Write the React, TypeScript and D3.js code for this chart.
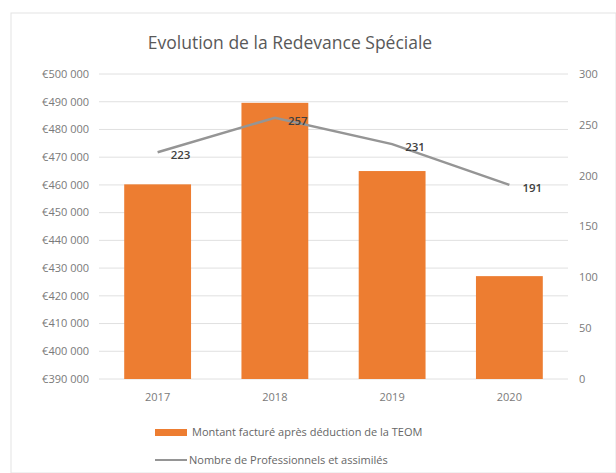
import React, { useEffect, useRef } from 'react';
import * as d3 from 'd3';

const years = ['2017', '2018', '2019', '2020'];
const montants = [460200, 489600, 465000, 427100];
const professionnels = [223, 257, 231, 191];
const leftTicks = [390000, 400000, 410000, 420000, 430000, 440000, 450000, 460000, 470000, 480000, 490000, 500000];
const rightTicks = [0, 50, 100, 150, 200, 250, 300];

const FONT = "'Open Sans', 'Noto Sans', sans-serif";

const App = () => {
  const svgRef = useRef<SVGSVGElement | null>(null);

  useEffect(() => {
    const svg = d3.select(svgRef.current);
    svg.selectAll('*').remove();

    const W = 616;
    const H = 473;
    const plot = { left: 99, right: 568, top: 74, bottom: 379 };

    svg.attr('width', W).attr('height', H);

    // chart frame
    svg.append('rect')
      .attr('x', 11).attr('y', 13)
      .attr('width', W - 11).attr('height', H - 13)
      .attr('fill', '#fff')
      .attr('stroke', '#e3e3e3');

    const x = d3.scaleBand().domain(years).range([plot.left, plot.right]).paddingInner(0.43).paddingOuter(0.215);
    const yL = d3.scaleLinear().domain([390000, 500000]).range([plot.bottom, plot.top]);
    const yR = d3.scaleLinear().domain([0, 300]).range([plot.bottom, plot.top]);

    const fmt = (v: number) => '€' + d3.format(',')(v).replace(/,/g, ' ');

    // gridlines
    svg.append('g')
      .selectAll('line')
      .data(leftTicks)
      .join('line')
      .attr('x1', plot.left).attr('x2', plot.right)
      .attr('y1', d => yL(d)).attr('y2', d => yL(d))
      .attr('stroke', '#e0e0e0').attr('stroke-width', 1);

    // left axis labels
    svg.append('g')
      .selectAll('text')
      .data(leftTicks)
      .join('text')
      .attr('x', 89).attr('y', d => yL(d))
      .attr('dy', '0.35em')
      .attr('text-anchor', 'end')
      .attr('font-family', FONT).attr('font-size', 11)
      .attr('fill', '#7a7a7a')
      .text(d => fmt(d));

    // right axis labels
    svg.append('g')
      .selectAll('text')
      .data(rightTicks)
      .join('text')
      .attr('x', 579).attr('y', d => yR(d))
      .attr('dy', '0.35em')
      .attr('text-anchor', 'start')
      .attr('font-family', FONT).attr('font-size', 11)
      .attr('fill', '#7a7a7a')
      .text(d => d);

    // bars
    svg.append('g')
      .selectAll('rect')
      .data(montants)
      .join('rect')
      .attr('x', (d, i) => x(years[i])!)
      .attr('y', d => yL(d))
      .attr('width', x.bandwidth())
      .attr('height', d => plot.bottom - yL(d))
      .attr('fill', '#ED7D31');

    // x labels
    svg.append('g')
      .selectAll('text')
      .data(years)
      .join('text')
      .attr('x', d => x(d)! + x.bandwidth() / 2)
      .attr('y', 397)
      .attr('dy', '0.35em')
      .attr('text-anchor', 'middle')
      .attr('font-family', FONT).attr('font-size', 11)
      .attr('fill', '#7a7a7a')
      .text(d => d);

    // line
    const cx = (i: number) => x(years[i])! + x.bandwidth() / 2;
    const line = d3.line<number>()
      .x((d, i) => cx(i))
      .y(d => yR(d));

    svg.append('path')
      .datum(professionnels)
      .attr('fill', 'none')
      .attr('stroke', '#959595')
      .attr('stroke-width', 2.5)
      .attr('d', line);

    // data labels
    svg.append('g')
      .selectAll('text')
      .data(professionnels)
      .join('text')
      .attr('x', (d, i) => cx(i) + 13)
      .attr('y', d => yR(d) + 3)
      .attr('dy', '0.35em')
      .attr('font-family', FONT).attr('font-size', 11.5)
      .attr('font-weight', 600)
      .attr('fill', '#404040')
      .text(d => d);

    // title
    svg.append('text')
      .attr('x', 290).attr('y', 43)
      .attr('dy', '0.35em')
      .attr('text-anchor', 'middle')
      .attr('font-family', FONT).attr('font-size', 17.5)
      .attr('fill', '#595959')
      .text('Evolution de la Redevance Spéciale');

    // legend
    const legend = svg.append('g');
    legend.append('rect')
      .attr('x', 155).attr('y', 429)
      .attr('width', 32).attr('height', 7)
      .attr('fill', '#ED7D31');
    legend.append('text')
      .attr('x', 192).attr('y', 432)
      .attr('dy', '0.35em')
      .attr('font-family', FONT).attr('font-size', 11)
      .attr('fill', '#666')
      .text('Montant facturé après déduction de la TEOM');
    legend.append('line')
      .attr('x1', 155).attr('x2', 187)
      .attr('y1', 460).attr('y2', 460)
      .attr('stroke', '#959595').attr('stroke-width', 2);
    legend.append('text')
      .attr('x', 189).attr('y', 460)
      .attr('dy', '0.35em')
      .attr('font-family', FONT).attr('font-size', 11)
      .attr('fill', '#666')
      .text('Nombre de Professionnels et assimilés');
  }, []);

  return (
    <div style={{ position: 'absolute', left: 0, top: 0 }}>
      <svg ref={svgRef} style={{ display: 'block' }}></svg>
    </div>
  );
};

export default App;
